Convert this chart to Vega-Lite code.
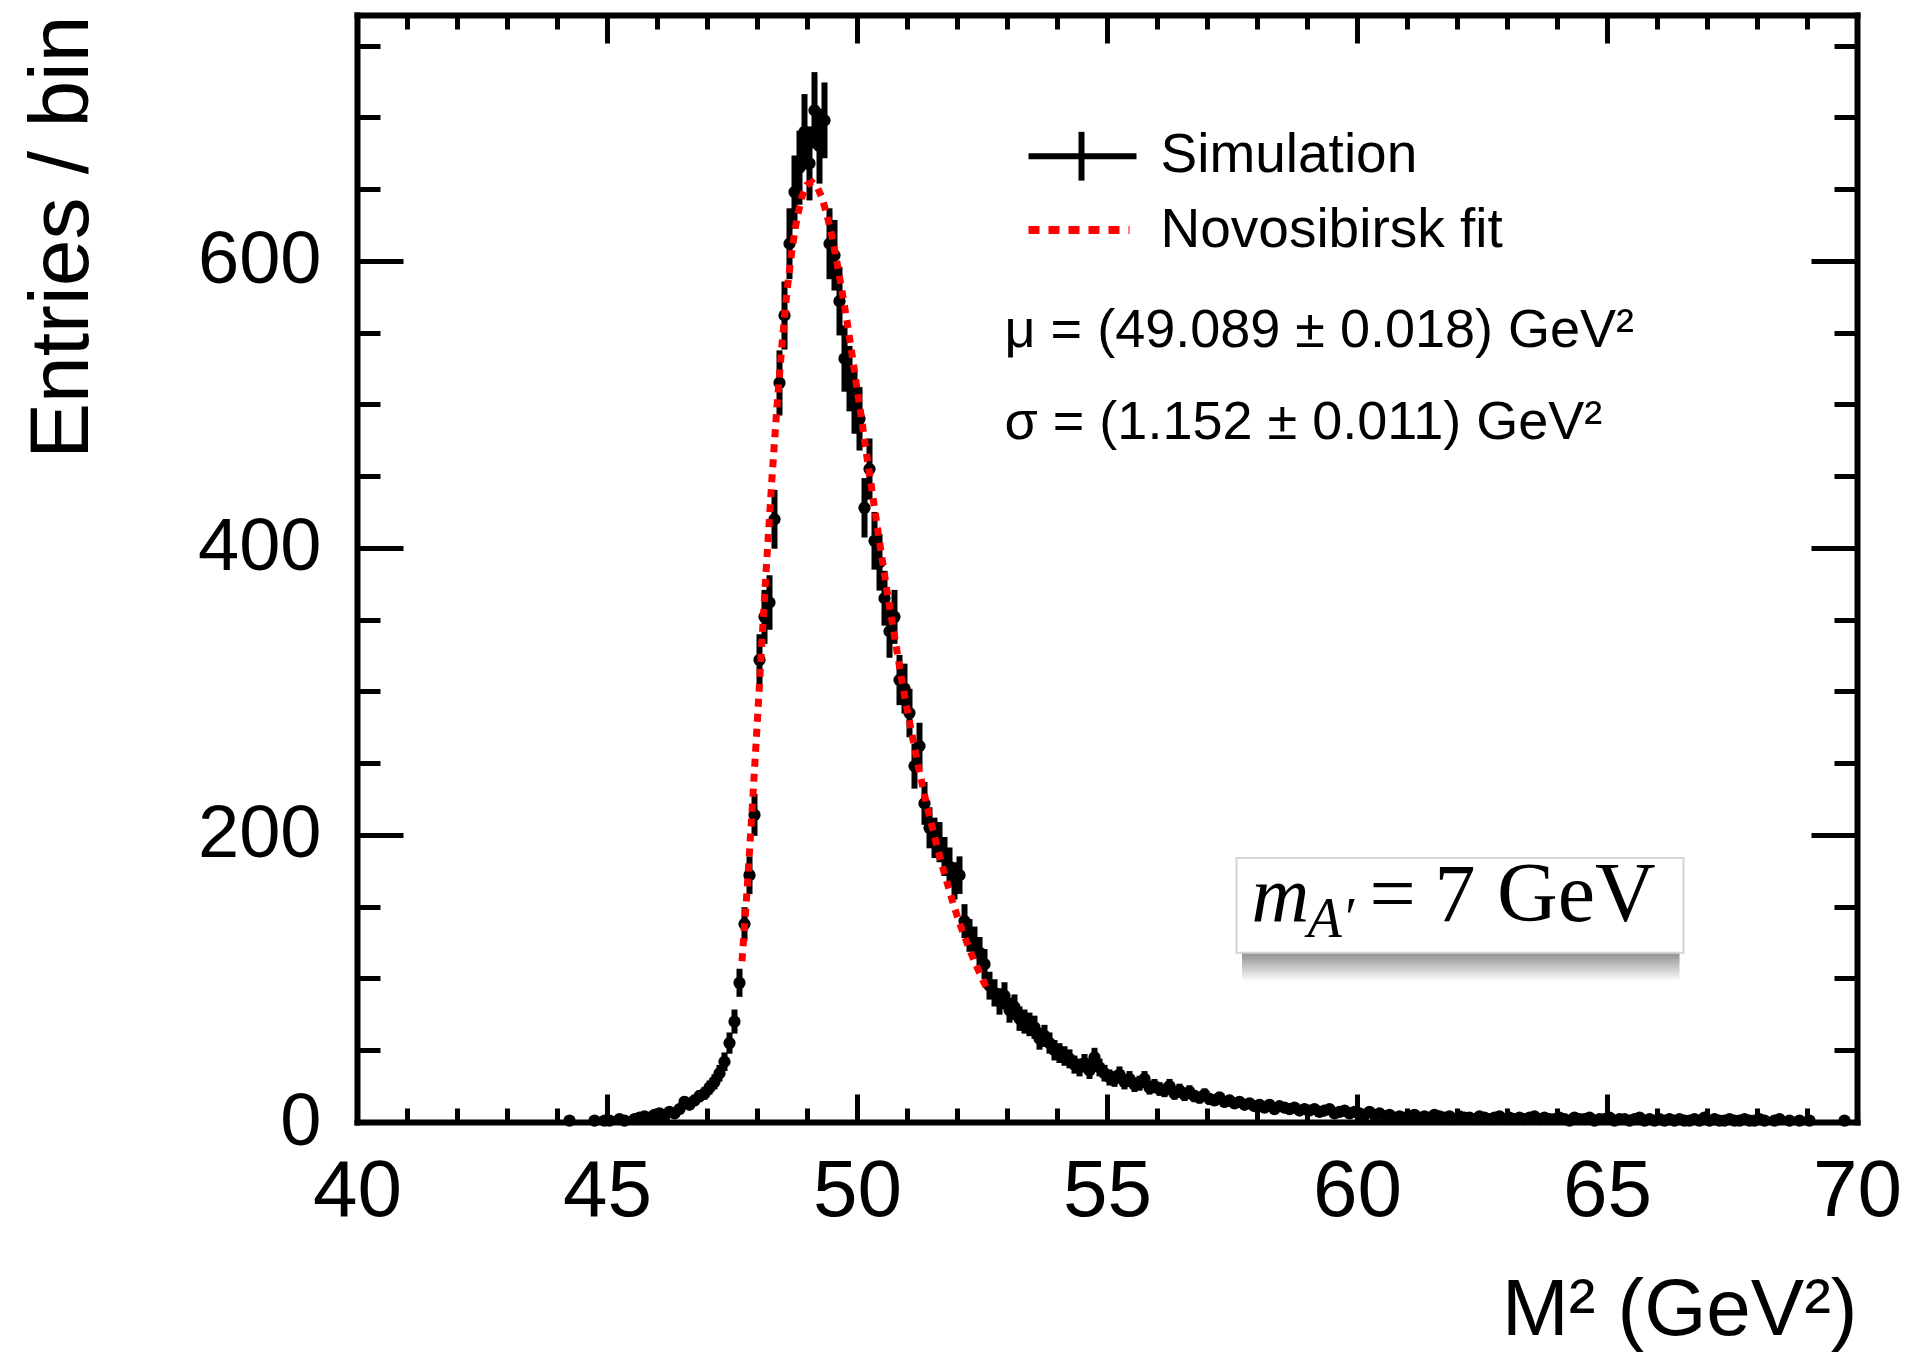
{
"$schema": "https://vega.github.io/schema/vega-lite/v6.json",
"width": 1500, "height": 1107,
"autosize": {"type": "none"},
"padding": {"left": 357, "top": 15, "right": 64, "bottom": 231},
"background": "white",
"config": {
  "view": {"stroke": null},
  "axis": {"grid": false, "domainColor": "black", "tickColor": "black", "labelColor": "black", "titleColor": "black",
    "labelFont": "Liberation Sans", "titleFont": "Liberation Sans", "titleFontWeight": "normal",
    "domainWidth": 6, "domainCap": "square", "tickWidth": 5, "labelOverlap": false, "labelFlush": false},
  "text": {"font": "Liberation Sans", "color": "black"}
},
"datasets": {
  "sim": [
{"x":44.25,"n":1,"e":1},{"x":44.75,"n":1,"e":1},{"x":44.95,"n":1,"e":1},{"x":45.05,"n":1,"e":1},{"x":45.25,"n":2,"e":1.4},{"x":45.35,"n":1,"e":1},{"x":45.55,"n":2,"e":1.4},{"x":45.65,"n":3,"e":1.7},{"x":45.75,"n":4,"e":2},{"x":45.85,"n":3,"e":1.7},{"x":45.95,"n":5,"e":2.2},
{"x":46.05,"n":6,"e":2.4},{"x":46.15,"n":4,"e":2},{"x":46.25,"n":7,"e":2.6},{"x":46.35,"n":6,"e":2.4},{"x":46.45,"n":9,"e":3},{"x":46.55,"n":14,"e":3.7},{"x":46.65,"n":12,"e":3.5},{"x":46.75,"n":15,"e":3.9},{"x":46.85,"n":18,"e":4.2},{"x":46.95,"n":20,"e":4.5},
{"x":47.05,"n":24,"e":4.9},{"x":47.15,"n":28,"e":5.3},{"x":47.25,"n":34,"e":5.8},{"x":47.35,"n":42,"e":6.5},{"x":47.45,"n":55,"e":7.4},{"x":47.55,"n":70,"e":8.4},{"x":47.65,"n":97,"e":9.8},{"x":47.75,"n":138,"e":11.7},{"x":47.85,"n":172,"e":13.1},{"x":47.95,"n":214,"e":14.6},
{"x":48.05,"n":322,"e":17.9},{"x":48.15,"n":352,"e":18.8},{"x":48.25,"n":362,"e":19},{"x":48.35,"n":420,"e":20.5},{"x":48.45,"n":515,"e":22.7},{"x":48.55,"n":562,"e":23.7},{"x":48.65,"n":612,"e":24.7},{"x":48.75,"n":648,"e":25.5},{"x":48.85,"n":665,"e":25.8},{"x":48.95,"n":690,"e":26.3},
{"x":49.05,"n":668,"e":25.8},{"x":49.15,"n":705,"e":26.6},{"x":49.25,"n":680,"e":26.1},{"x":49.35,"n":698,"e":26.4},{"x":49.45,"n":612,"e":24.7},{"x":49.55,"n":604,"e":24.6},{"x":49.65,"n":572,"e":23.9},{"x":49.75,"n":532,"e":23.1},{"x":49.85,"n":518,"e":22.8},{"x":49.95,"n":502,"e":22.4},
{"x":50.05,"n":490,"e":22.1},{"x":50.15,"n":428,"e":20.7},{"x":50.25,"n":455,"e":21.3},{"x":50.35,"n":405,"e":20.1},{"x":50.45,"n":390,"e":19.7},{"x":50.55,"n":365,"e":19.1},{"x":50.65,"n":342,"e":18.5},{"x":50.75,"n":352,"e":18.8},{"x":50.85,"n":308,"e":17.5},{"x":50.95,"n":302,"e":17.4},
{"x":51.05,"n":285,"e":16.9},{"x":51.15,"n":248,"e":15.7},{"x":51.25,"n":262,"e":16.2},{"x":51.35,"n":222,"e":14.9},{"x":51.45,"n":205,"e":14.3},{"x":51.55,"n":198,"e":14.1},{"x":51.65,"n":195,"e":14},{"x":51.75,"n":185,"e":13.6},{"x":51.85,"n":178,"e":13.3},{"x":51.95,"n":168,"e":13},
{"x":52.05,"n":172,"e":13.1},{"x":52.15,"n":140,"e":11.8},{"x":52.25,"n":130,"e":11.4},{"x":52.35,"n":125,"e":11.2},{"x":52.45,"n":118,"e":10.9},{"x":52.55,"n":110,"e":10.5},{"x":52.65,"n":95,"e":9.7},{"x":52.75,"n":90,"e":9.5},{"x":52.85,"n":84,"e":9.2},{"x":52.95,"n":88,"e":9.4},
{"x":53.05,"n":78,"e":8.8},{"x":53.15,"n":80,"e":8.9},{"x":53.25,"n":72,"e":8.5},{"x":53.35,"n":70,"e":8.4},{"x":53.45,"n":68,"e":8.2},{"x":53.55,"n":66,"e":8.1},{"x":53.65,"n":58,"e":7.6},{"x":53.75,"n":60,"e":7.7},{"x":53.85,"n":55,"e":7.4},{"x":53.95,"n":50,"e":7.1},
{"x":54.05,"n":48,"e":6.9},{"x":54.15,"n":46,"e":6.8},{"x":54.25,"n":44,"e":6.6},{"x":54.35,"n":40,"e":6.3},{"x":54.45,"n":38,"e":6.2},{"x":54.55,"n":41,"e":6.4},{"x":54.65,"n":36,"e":6},{"x":54.75,"n":45,"e":6.7},{"x":54.85,"n":38,"e":6.2},{"x":54.95,"n":34,"e":5.8},
{"x":55.05,"n":31,"e":5.6},{"x":55.15,"n":30,"e":5.5},{"x":55.25,"n":33,"e":5.7},{"x":55.35,"n":28,"e":5.3},{"x":55.45,"n":30,"e":5.5},{"x":55.55,"n":26,"e":5.1},{"x":55.65,"n":27,"e":5.2},{"x":55.75,"n":30,"e":5.5},{"x":55.85,"n":24,"e":4.9},{"x":55.95,"n":25,"e":5},
{"x":56.05,"n":23,"e":4.8},{"x":56.15,"n":22,"e":4.7},{"x":56.25,"n":25,"e":5},{"x":56.35,"n":20,"e":4.5},{"x":56.45,"n":22,"e":4.7},{"x":56.55,"n":19,"e":4.4},{"x":56.65,"n":21,"e":4.6},{"x":56.75,"n":18,"e":4.2},{"x":56.85,"n":17,"e":4.1},{"x":56.95,"n":19,"e":4.4},
{"x":57.05,"n":16,"e":4},{"x":57.15,"n":15,"e":3.9},{"x":57.25,"n":17,"e":4.1},{"x":57.35,"n":14,"e":3.7},{"x":57.45,"n":15,"e":3.9},{"x":57.55,"n":13,"e":3.6},{"x":57.65,"n":14,"e":3.7},{"x":57.75,"n":12,"e":3.5},{"x":57.85,"n":13,"e":3.6},{"x":57.95,"n":11,"e":3.3},
{"x":58.05,"n":12,"e":3.5},{"x":58.15,"n":10,"e":3.2},{"x":58.25,"n":12,"e":3.5},{"x":58.35,"n":9,"e":3},{"x":58.45,"n":11,"e":3.3},{"x":58.55,"n":10,"e":3.2},{"x":58.65,"n":9,"e":3},{"x":58.75,"n":10,"e":3.2},{"x":58.85,"n":8,"e":2.8},{"x":58.95,"n":9,"e":3},
{"x":59.05,"n":8,"e":2.8},{"x":59.15,"n":9,"e":3},{"x":59.25,"n":7,"e":2.6},{"x":59.35,"n":8,"e":2.8},{"x":59.45,"n":9,"e":3},{"x":59.55,"n":6,"e":2.4},{"x":59.65,"n":7,"e":2.6},{"x":59.75,"n":8,"e":2.8},{"x":59.85,"n":6,"e":2.4},{"x":59.95,"n":7,"e":2.6},
{"x":60.05,"n":6,"e":2.4},{"x":60.15,"n":5,"e":2.2},{"x":60.25,"n":7,"e":2.6},{"x":60.35,"n":5,"e":2.2},{"x":60.45,"n":6,"e":2.4},{"x":60.55,"n":4,"e":2},{"x":60.65,"n":5,"e":2.2},{"x":60.75,"n":3,"e":1.7},{"x":60.85,"n":4,"e":2},{"x":60.95,"n":3,"e":1.7},
{"x":61.05,"n":4,"e":2},{"x":61.15,"n":5,"e":2.2},{"x":61.25,"n":3,"e":1.7},{"x":61.35,"n":4,"e":2},{"x":61.45,"n":3,"e":1.7},{"x":61.55,"n":5,"e":2.2},{"x":61.65,"n":4,"e":2},{"x":61.75,"n":3,"e":1.7},{"x":61.85,"n":4,"e":2},{"x":61.95,"n":2,"e":1.4},
{"x":62.05,"n":4,"e":2},{"x":62.15,"n":3,"e":1.7},{"x":62.25,"n":3,"e":1.7},{"x":62.35,"n":2,"e":1.4},{"x":62.45,"n":4,"e":2},{"x":62.55,"n":3,"e":1.7},{"x":62.65,"n":2,"e":1.4},{"x":62.75,"n":3,"e":1.7},{"x":62.85,"n":4,"e":2},{"x":62.95,"n":2,"e":1.4},
{"x":63.05,"n":3,"e":1.7},{"x":63.15,"n":2,"e":1.4},{"x":63.25,"n":3,"e":1.7},{"x":63.35,"n":2,"e":1.4},{"x":63.45,"n":3,"e":1.7},{"x":63.55,"n":4,"e":2},{"x":63.65,"n":2,"e":1.4},{"x":63.75,"n":3,"e":1.7},{"x":63.85,"n":2,"e":1.4},{"x":63.95,"n":2,"e":1.4},
{"x":64.05,"n":3,"e":1.7},{"x":64.15,"n":2,"e":1.4},{"x":64.25,"n":1,"e":1},{"x":64.35,"n":3,"e":1.7},{"x":64.45,"n":2,"e":1.4},{"x":64.55,"n":2,"e":1.4},{"x":64.65,"n":3,"e":1.7},{"x":64.75,"n":1,"e":1},{"x":64.85,"n":2,"e":1.4},{"x":64.95,"n":2,"e":1.4},
{"x":65.05,"n":3,"e":1.7},{"x":65.15,"n":1,"e":1},{"x":65.25,"n":2,"e":1.4},{"x":65.35,"n":2,"e":1.4},{"x":65.45,"n":1,"e":1},{"x":65.55,"n":2,"e":1.4},{"x":65.65,"n":3,"e":1.7},{"x":65.75,"n":1,"e":1},{"x":65.85,"n":2,"e":1.4},{"x":65.95,"n":1,"e":1},
{"x":66.05,"n":2,"e":1.4},{"x":66.15,"n":1,"e":1},{"x":66.25,"n":2,"e":1.4},{"x":66.35,"n":1,"e":1},{"x":66.45,"n":2,"e":1.4},{"x":66.55,"n":1,"e":1},{"x":66.65,"n":1,"e":1},{"x":66.75,"n":2,"e":1.4},{"x":66.85,"n":1,"e":1},{"x":66.95,"n":3,"e":1.7},
{"x":67.05,"n":1,"e":1},{"x":67.15,"n":2,"e":1.4},{"x":67.25,"n":1,"e":1},{"x":67.35,"n":1,"e":1},{"x":67.45,"n":2,"e":1.4},{"x":67.55,"n":1,"e":1},{"x":67.65,"n":1,"e":1},{"x":67.75,"n":2,"e":1.4},{"x":67.85,"n":1,"e":1},{"x":67.95,"n":1,"e":1},
{"x":68.05,"n":2,"e":1.4},{"x":68.15,"n":1,"e":1},{"x":68.35,"n":1,"e":1},{"x":68.45,"n":2,"e":1.4},{"x":68.65,"n":1,"e":1},{"x":68.85,"n":1,"e":1},{"x":69.05,"n":1,"e":1},{"x":69.75,"n":1,"e":1}
  ],
  "fit": [
{"x":47.7,"y":112},{"x":47.8,"y":161},{"x":47.9,"y":216},{"x":48.0,"y":275},{"x":48.1,"y":336},{"x":48.2,"y":394},{"x":48.3,"y":449},{"x":48.4,"y":499},{"x":48.5,"y":542},{"x":48.6,"y":579},
{"x":48.7,"y":608},{"x":48.8,"y":630},{"x":48.9,"y":645},{"x":49.0,"y":653},{"x":49.1,"y":655},{"x":49.2,"y":652},{"x":49.3,"y":644},{"x":49.4,"y":632},{"x":49.5,"y":617},{"x":49.6,"y":599},
{"x":49.7,"y":579},{"x":49.8,"y":558},{"x":49.9,"y":535},{"x":50.0,"y":511},{"x":50.1,"y":488},{"x":50.2,"y":463},{"x":50.3,"y":440},{"x":50.4,"y":416},{"x":50.5,"y":393},{"x":50.6,"y":370},
{"x":50.7,"y":349},{"x":50.8,"y":328},{"x":50.9,"y":307},{"x":51.0,"y":288},{"x":51.1,"y":270},{"x":51.2,"y":252},{"x":51.3,"y":236},{"x":51.4,"y":220},{"x":51.5,"y":206},{"x":51.6,"y":192},
{"x":51.7,"y":179},{"x":51.8,"y":167},{"x":51.9,"y":155},{"x":52.0,"y":144},{"x":52.1,"y":134},{"x":52.2,"y":125},{"x":52.3,"y":116},{"x":52.4,"y":108},{"x":52.5,"y":100},{"x":52.6,"y":93}
  ]
},
"resolve": {"axis": {"x": "independent", "y": "independent"}},
"layer": [
  {
    "data": {"name": "sim"},
    "mark": {"type": "errorbar", "thickness": 6, "color": "black"},
    "encoding": {
      "x": {"field": "x", "type": "quantitative", "scale": {"domain": [40, 70], "nice": false, "zero": false},
        "axis": {"orient": "bottom", "values": [40, 45, 50, 55, 60, 65, 70], "tickSize": -28, "labelPadding": 58, "labelFontSize": 80,
          "title": "M² (GeV²)", "titleFontSize": 80, "titleAnchor": "end", "titlePadding": 40}},
      "y": {"field": "n", "type": "quantitative", "scale": {"domain": [0, 771.4], "nice": false, "zero": true},
        "axis": {"orient": "left", "values": [0, 200, 400, 600], "tickSize": -46, "labelPadding": 82, "labelFontSize": 74,
          "title": "Entries / bin", "titleFontSize": 84, "titleAnchor": "end", "titlePadding": 92}},
      "yError": {"field": "e"}
    }
  },
  {
    "data": {"name": "sim"},
    "mark": {"type": "circle", "size": 150, "color": "black", "opacity": 1},
    "encoding": {
      "x": {"field": "x", "type": "quantitative",
        "axis": {"orient": "bottom", "values": [41,42,43,44,46,47,48,49,51,52,53,54,56,57,58,59,61,62,63,64,66,67,68,69], "tickSize": -14, "labels": false, "domain": false, "title": null}},
      "y": {"field": "n", "type": "quantitative",
        "axis": {"orient": "left", "values": [50,100,150,250,300,350,450,500,550,650,700,750], "tickSize": -23, "labels": false, "domain": false, "title": null}}
    }
  },
  {
    "data": {"name": "fit"},
    "mark": {"type": "line", "color": "#ff0000", "strokeWidth": 7, "strokeDash": [8, 7]},
    "encoding": {
      "x": {"field": "x", "type": "quantitative",
        "axis": {"orient": "top", "values": [40, 45, 50, 55, 60, 65, 70], "tickSize": -28, "labels": false, "title": null}},
      "y": {"field": "y", "type": "quantitative",
        "axis": {"orient": "right", "values": [0, 200, 400, 600], "tickSize": -46, "labels": false, "title": null}}
    }
  },
  {
    "data": {"values": [{}]},
    "mark": {"type": "rect", "fill": {"gradient": "linear", "x1": 0, "y1": 0, "x2": 0, "y2": 1, "stops": [{"offset": 0, "color": "#7a7a7a"}, {"offset": 1, "color": "#ffffff"}]}, "opacity": 0.85},
    "encoding": {
      "x": {"datum": 57.7, "type": "quantitative",
        "axis": {"orient": "top", "values": [41,42,43,44,46,47,48,49,51,52,53,54,56,57,58,59,61,62,63,64,66,67,68,69], "tickSize": -14, "labels": false, "domain": false, "title": null}},
      "x2": {"datum": 66.45},
      "y": {"datum": 118, "type": "quantitative",
        "axis": {"orient": "right", "values": [50,100,150,250,300,350,450,500,550,650,700,750], "tickSize": -23, "labels": false, "domain": false, "title": null}},
      "y2": {"datum": 98}
    }
  },
  {
    "data": {"values": [{}]},
    "mark": {"type": "rect", "fill": "white", "stroke": "#d4d4d4", "strokeWidth": 2},
    "encoding": {
      "x": {"datum": 57.59, "type": "quantitative", "axis": null},
      "x2": {"datum": 66.53},
      "y": {"datum": 184, "type": "quantitative", "axis": null},
      "y2": {"datum": 118}
    }
  },
  {
    "data": {"values": [{}]},
    "mark": {"type": "text", "text": "m", "font": "Liberation Serif", "fontStyle": "italic", "fontSize": 80, "align": "left", "baseline": "alphabetic"},
    "encoding": {"x": {"datum": 57.89, "type": "quantitative", "axis": null}, "y": {"datum": 140, "type": "quantitative", "axis": null}}
  },
  {
    "data": {"values": [{}]},
    "mark": {"type": "text", "text": "A′", "font": "Liberation Serif", "fontStyle": "italic", "fontSize": 56, "align": "left", "baseline": "alphabetic"},
    "encoding": {"x": {"datum": 59.01, "type": "quantitative", "axis": null}, "y": {"datum": 129, "type": "quantitative", "axis": null}}
  },
  {
    "data": {"values": [{}]},
    "mark": {"type": "text", "text": "=", "font": "Liberation Serif", "fontSize": 82, "align": "left", "baseline": "alphabetic"},
    "encoding": {"x": {"datum": 60.25, "type": "quantitative", "axis": null}, "y": {"datum": 140, "type": "quantitative", "axis": null}}
  },
  {
    "data": {"values": [{}]},
    "mark": {"type": "text", "text": "7", "font": "Liberation Serif", "fontSize": 82, "align": "left", "baseline": "alphabetic"},
    "encoding": {"x": {"datum": 61.55, "type": "quantitative", "axis": null}, "y": {"datum": 140, "type": "quantitative", "axis": null}}
  },
  {
    "data": {"values": [{}]},
    "mark": {"type": "text", "text": "GeV", "font": "Liberation Serif", "fontSize": 84, "align": "left", "baseline": "alphabetic"},
    "encoding": {"x": {"datum": 62.8, "type": "quantitative", "axis": null}, "y": {"datum": 140, "type": "quantitative", "axis": null}}
  },
  {
    "data": {"values": [{}]},
    "mark": {"type": "rule", "color": "black", "strokeWidth": 6},
    "encoding": {"x": {"datum": 53.43, "type": "quantitative", "axis": null}, "x2": {"datum": 55.59}, "y": {"datum": 673, "type": "quantitative", "axis": null}}
  },
  {
    "data": {"values": [{}]},
    "mark": {"type": "rule", "color": "black", "strokeWidth": 6},
    "encoding": {"x": {"datum": 54.49, "type": "quantitative", "axis": null}, "y": {"datum": 690, "type": "quantitative", "axis": null}, "y2": {"datum": 656}}
  },
  {
    "data": {"values": [{}]},
    "mark": {"type": "rule", "color": "#ff0000", "strokeWidth": 8, "strokeDash": [11, 9]},
    "encoding": {"x": {"datum": 53.43, "type": "quantitative", "axis": null}, "x2": {"datum": 55.45}, "y": {"datum": 621.6, "type": "quantitative", "axis": null}}
  },
  {
    "data": {"values": [{}]},
    "mark": {"type": "text", "text": "Simulation", "fontSize": 55, "align": "left", "baseline": "middle"},
    "encoding": {"x": {"datum": 56.07, "type": "quantitative", "axis": null}, "y": {"datum": 674, "type": "quantitative", "axis": null}}
  },
  {
    "data": {"values": [{}]},
    "mark": {"type": "text", "text": "Novosibirsk fit", "fontSize": 55, "align": "left", "baseline": "middle"},
    "encoding": {"x": {"datum": 56.07, "type": "quantitative", "axis": null}, "y": {"datum": 621.6, "type": "quantitative", "axis": null}}
  },
  {
    "data": {"values": [{}]},
    "mark": {"type": "text", "text": "μ = (49.089 ± 0.018) GeV²", "fontSize": 54, "align": "left", "baseline": "middle"},
    "encoding": {"x": {"datum": 52.95, "type": "quantitative", "axis": null}, "y": {"datum": 551, "type": "quantitative", "axis": null}}
  },
  {
    "data": {"values": [{}]},
    "mark": {"type": "text", "text": "σ = (1.152 ± 0.011) GeV²", "fontSize": 54, "align": "left", "baseline": "middle"},
    "encoding": {"x": {"datum": 52.95, "type": "quantitative", "axis": null}, "y": {"datum": 487, "type": "quantitative", "axis": null}}
  }
]
}
